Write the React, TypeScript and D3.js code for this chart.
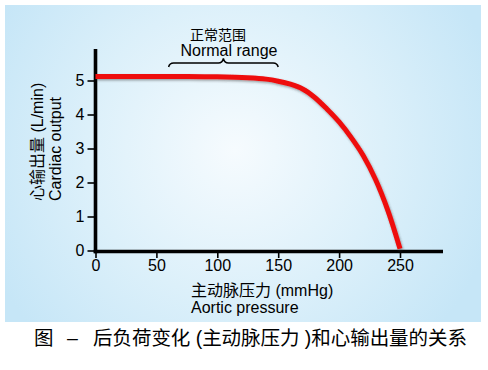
import React, { useEffect, useRef } from "react";
import * as d3 from "d3";

// Aortic pressure (mmHg) vs cardiac output (L/min)
const pressure = [0, 25, 50, 75, 100, 125, 140, 150, 160, 170, 180, 190, 200, 210, 220, 230, 240, 250];
const output = [5.12, 5.12, 5.12, 5.12, 5.11, 5.08, 5.04, 4.98, 4.89, 4.75, 4.5, 4.16, 3.78, 3.32, 2.78, 2.08, 1.18, 0.05];

const xTicks = [0, 50, 100, 150, 200, 250];
const yTicks = [0, 1, 2, 3, 4, 5];
const normalRange = [60, 150];

const FONT = "'Liberation Sans', Arial, 'Noto Sans CJK SC', sans-serif";

export default function App() {
  const svgRef = useRef<SVGSVGElement>(null);

  useEffect(() => {
    if (!svgRef.current) return;
    const svg = d3.select(svgRef.current);
    svg.selectAll("*").remove();

    const x = d3.scaleLinear().domain([0, 250]).range([95.5, 400]);
    const y = d3.scaleLinear().domain([0, 5]).range([250.5, 80.5]);

    // background panel
    const defs = svg.append("defs");
    const grad = defs
      .append("radialGradient")
      .attr("id", "bg")
      .attr("gradientUnits", "userSpaceOnUse")
      .attr("cx", 235)
      .attr("cy", 150)
      .attr("r", 270);
    grad.append("stop").attr("offset", "0%").attr("stop-color", "#f6fbfe");
    grad.append("stop").attr("offset", "55%").attr("stop-color", "#dcf0fa");
    grad.append("stop").attr("offset", "100%").attr("stop-color", "#c6e6f7");

    const shadow = defs.append("filter").attr("id", "sh").attr("x", "-10%").attr("y", "-10%").attr("width", "130%").attr("height", "130%");
    shadow
      .append("feDropShadow")
      .attr("dx", 1)
      .attr("dy", 1.5)
      .attr("stdDeviation", 1)
      .attr("flood-color", "#333")
      .attr("flood-opacity", 0.45);

    svg.append("rect").attr("x", 5).attr("y", 5).attr("width", 476).attr("height", 317).attr("fill", "url(#bg)");

    const g = svg.append("g").attr("font-family", FONT);

    // y axis
    const yAxis = d3.axisLeft(y).tickValues(yTicks).tickFormat(d3.format("d")).tickSize(8).tickPadding(3);
    const yg = g.append("g").attr("transform", `translate(${x(0)},0)`).call(yAxis);
    yg.select(".domain").remove();
    yg.selectAll(".tick line").attr("stroke", "#000").attr("stroke-width", 1.6);
    yg.selectAll(".tick text").attr("font-size", 16).attr("fill", "#000").attr("font-family", FONT);

    // x axis
    const xAxis = d3.axisBottom(x).tickValues(xTicks).tickFormat(d3.format("d")).tickSize(6.5).tickPadding(2);
    const xg = g.append("g").attr("transform", `translate(0,${y(0) + 1})`).call(xAxis);
    xg.select(".domain").remove();
    xg.selectAll(".tick line").attr("stroke", "#000").attr("stroke-width", 1.6);
    xg.selectAll(".tick text").attr("font-size", 16).attr("fill", "#000").attr("font-family", FONT);

    // axis lines
    g.append("line")
      .attr("x1", x(0))
      .attr("x2", x(0))
      .attr("y1", 49)
      .attr("y2", y(0) + 2.8)
      .attr("stroke", "#000")
      .attr("stroke-width", 3.6);
    g.append("line")
      .attr("x1", x(0) - 1.8)
      .attr("x2", 443)
      .attr("y1", y(0) + 1)
      .attr("y2", y(0) + 1)
      .attr("stroke", "#000")
      .attr("stroke-width", 3.6);

    // curve
    const pts = pressure.map((p, i) => [p, output[i]] as [number, number]);
    const line = d3
      .line<[number, number]>()
      .x((d) => x(d[0]))
      .y((d) => y(d[1]))
      .curve(d3.curveCatmullRom.alpha(0.5));
    g.append("path")
      .attr("d", line(pts))
      .attr("fill", "none")
      .attr("stroke", "#ee1111")
      .attr("stroke-width", 5)
      .attr("filter", "url(#sh)");

    // normal range brace
    const bx0 = x(normalRange[0]);
    const bx1 = x(normalRange[1]);
    const bm = (bx0 + bx1) / 2;
    const by = 63;
    g.append("path")
      .attr(
        "d",
        `M${bx0},${by + 4} Q${bx0 + 1},${by} ${bx0 + 5},${by} L${bm - 5},${by} Q${bm - 1},${by} ${bm},${by - 4.5} Q${bm + 1},${by} ${bm + 5},${by} L${bx1 - 5},${by} Q${bx1 - 1},${by} ${bx1},${by + 4}`
      )
      .attr("fill", "none")
      .attr("stroke", "#000")
      .attr("stroke-width", 1.5);

    g.append("text").attr("x", 218).attr("y", 39.5).attr("text-anchor", "middle").attr("font-size", 14).text("正常范围");
    g.append("text").attr("x", 180.5).attr("y", 55.5).attr("font-size", 16).text("Normal range");

    // y axis title
    g.append("text")
      .attr("transform", "translate(43,201) rotate(-90)")
      .attr("font-size", 16)
      .text("心输出量 (L/min)");
    g.append("text")
      .attr("transform", "translate(61,201) rotate(-90)")
      .attr("font-size", 16)
      .text("Cardiac output");

    // x axis title
    g.append("text").attr("x", 191).attr("y", 296).attr("font-size", 16).text("主动脉压力 (mmHg)");
    g.append("text").attr("x", 191).attr("y", 313).attr("font-size", 16).text("Aortic pressure");

    // caption
    g.append("text").attr("x", 34).attr("y", 345).attr("font-size", 19.5).text("图");
    g.append("text").attr("x", 72.5).attr("y", 345).attr("text-anchor", "middle").attr("font-size", 19.5).text("–");
    g.append("text")
      .attr("x", 93)
      .attr("y", 345)
      .attr("font-size", 19.5)
      .attr("textLength", 374)
      .attr("lengthAdjust", "spacing")
      .text("后负荷变化 (主动脉压力 )和心输出量的关系");
  }, []);

  return (
    <svg
      ref={svgRef}
      width={488}
      height={370}
      style={{ position: "absolute", left: 0, top: 0, background: "#fff" }}
    />
  );
}
